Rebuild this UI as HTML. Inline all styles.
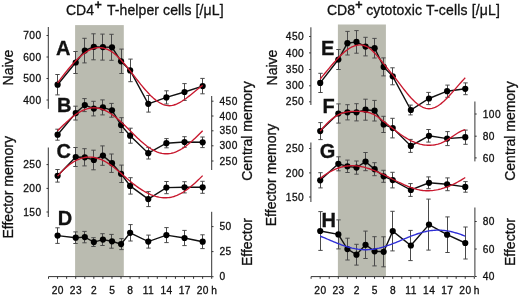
<!DOCTYPE html>
<html><head><meta charset="utf-8"><style>
html,body{margin:0;padding:0;background:#fff;}
svg{display:block;font-family:"Liberation Sans",sans-serif;will-change:transform;}
text{fill:#111;stroke:#111;stroke-width:0.3px;}
</style></head><body>
<svg width="520" height="295" viewBox="0 0 520 295">
<rect x="75.10" y="25.1" width="48.70" height="251.10" fill="#babbb0"/>
<rect x="337.90" y="24.5" width="48.00" height="251.70" fill="#babbb0"/>
<line x1="48.30" y1="27" x2="48.30" y2="108.8" stroke="#333" stroke-width="1"/>
<line x1="46.50" y1="35.5" x2="48.30" y2="35.5" stroke="#333" stroke-width="1"/>
<text x="41.55" y="39.10" text-anchor="end" font-size="10.2" letter-spacing="0.45">700</text>
<line x1="46.50" y1="57" x2="48.30" y2="57" stroke="#333" stroke-width="1"/>
<text x="41.55" y="60.60" text-anchor="end" font-size="10.2" letter-spacing="0.45">600</text>
<line x1="46.50" y1="78.5" x2="48.30" y2="78.5" stroke="#333" stroke-width="1"/>
<text x="41.55" y="82.10" text-anchor="end" font-size="10.2" letter-spacing="0.45">500</text>
<line x1="46.50" y1="100" x2="48.30" y2="100" stroke="#333" stroke-width="1"/>
<text x="41.55" y="103.60" text-anchor="end" font-size="10.2" letter-spacing="0.45">400</text>
<line x1="211.70" y1="96" x2="211.70" y2="170" stroke="#333" stroke-width="1"/>
<line x1="211.70" y1="101.2" x2="213.50" y2="101.2" stroke="#333" stroke-width="1"/>
<text x="219.50" y="104.80" text-anchor="start" font-size="10.2" letter-spacing="0.45">450</text>
<line x1="211.70" y1="116" x2="213.50" y2="116" stroke="#333" stroke-width="1"/>
<text x="219.50" y="119.60" text-anchor="start" font-size="10.2" letter-spacing="0.45">400</text>
<line x1="211.70" y1="130.8" x2="213.50" y2="130.8" stroke="#333" stroke-width="1"/>
<text x="219.50" y="134.40" text-anchor="start" font-size="10.2" letter-spacing="0.45">350</text>
<line x1="211.70" y1="145.8" x2="213.50" y2="145.8" stroke="#333" stroke-width="1"/>
<text x="219.50" y="149.40" text-anchor="start" font-size="10.2" letter-spacing="0.45">300</text>
<line x1="211.70" y1="161" x2="213.50" y2="161" stroke="#333" stroke-width="1"/>
<text x="219.50" y="164.60" text-anchor="start" font-size="10.2" letter-spacing="0.45">250</text>
<line x1="48.30" y1="147.5" x2="48.30" y2="217" stroke="#333" stroke-width="1"/>
<line x1="46.50" y1="164.6" x2="48.30" y2="164.6" stroke="#333" stroke-width="1"/>
<text x="41.55" y="168.20" text-anchor="end" font-size="10.2" letter-spacing="0.45">250</text>
<line x1="46.50" y1="188.4" x2="48.30" y2="188.4" stroke="#333" stroke-width="1"/>
<text x="41.55" y="192.00" text-anchor="end" font-size="10.2" letter-spacing="0.45">200</text>
<line x1="46.50" y1="212" x2="48.30" y2="212" stroke="#333" stroke-width="1"/>
<text x="41.55" y="215.60" text-anchor="end" font-size="10.2" letter-spacing="0.45">150</text>
<line x1="211.70" y1="211.8" x2="211.70" y2="276.7" stroke="#333" stroke-width="1"/>
<line x1="211.70" y1="226.6" x2="213.50" y2="226.6" stroke="#333" stroke-width="1"/>
<text x="219.50" y="230.20" text-anchor="start" font-size="10.2" letter-spacing="0.45">50</text>
<line x1="211.70" y1="251.6" x2="213.50" y2="251.6" stroke="#333" stroke-width="1"/>
<text x="219.50" y="255.20" text-anchor="start" font-size="10.2" letter-spacing="0.45">25</text>
<line x1="211.70" y1="276.7" x2="213.50" y2="276.7" stroke="#333" stroke-width="1"/>
<text x="219.50" y="280.30" text-anchor="start" font-size="10.2" letter-spacing="0.45">0</text>
<line x1="310.90" y1="27.3" x2="310.90" y2="105" stroke="#333" stroke-width="1"/>
<line x1="309.10" y1="36.5" x2="310.90" y2="36.5" stroke="#333" stroke-width="1"/>
<text x="304.15" y="40.10" text-anchor="end" font-size="10.2" letter-spacing="0.45">450</text>
<line x1="309.10" y1="52.9" x2="310.90" y2="52.9" stroke="#333" stroke-width="1"/>
<text x="304.15" y="56.50" text-anchor="end" font-size="10.2" letter-spacing="0.45">400</text>
<line x1="309.10" y1="69.5" x2="310.90" y2="69.5" stroke="#333" stroke-width="1"/>
<text x="304.15" y="73.10" text-anchor="end" font-size="10.2" letter-spacing="0.45">350</text>
<line x1="309.10" y1="85.8" x2="310.90" y2="85.8" stroke="#333" stroke-width="1"/>
<text x="304.15" y="89.40" text-anchor="end" font-size="10.2" letter-spacing="0.45">300</text>
<line x1="309.10" y1="101.8" x2="310.90" y2="101.8" stroke="#333" stroke-width="1"/>
<text x="304.15" y="105.40" text-anchor="end" font-size="10.2" letter-spacing="0.45">250</text>
<line x1="474.90" y1="101.5" x2="474.90" y2="161.4" stroke="#333" stroke-width="1"/>
<line x1="474.90" y1="114" x2="476.70" y2="114" stroke="#333" stroke-width="1"/>
<text x="482.70" y="117.60" text-anchor="start" font-size="10.2" letter-spacing="0.45">100</text>
<line x1="474.90" y1="136.2" x2="476.70" y2="136.2" stroke="#333" stroke-width="1"/>
<text x="482.70" y="139.80" text-anchor="start" font-size="10.2" letter-spacing="0.45">80</text>
<line x1="474.90" y1="157.9" x2="476.70" y2="157.9" stroke="#333" stroke-width="1"/>
<text x="482.70" y="161.50" text-anchor="start" font-size="10.2" letter-spacing="0.45">60</text>
<line x1="310.90" y1="142.5" x2="310.90" y2="202" stroke="#333" stroke-width="1"/>
<line x1="309.10" y1="148.5" x2="310.90" y2="148.5" stroke="#333" stroke-width="1"/>
<text x="304.15" y="152.10" text-anchor="end" font-size="10.2" letter-spacing="0.45">250</text>
<line x1="309.10" y1="172.9" x2="310.90" y2="172.9" stroke="#333" stroke-width="1"/>
<text x="304.15" y="176.50" text-anchor="end" font-size="10.2" letter-spacing="0.45">200</text>
<line x1="309.10" y1="197" x2="310.90" y2="197" stroke="#333" stroke-width="1"/>
<text x="304.15" y="200.60" text-anchor="end" font-size="10.2" letter-spacing="0.45">150</text>
<line x1="474.90" y1="207.5" x2="474.90" y2="276.7" stroke="#333" stroke-width="1"/>
<line x1="474.90" y1="221.5" x2="476.70" y2="221.5" stroke="#333" stroke-width="1"/>
<text x="482.70" y="225.10" text-anchor="start" font-size="10.2" letter-spacing="0.45">80</text>
<line x1="474.90" y1="249" x2="476.70" y2="249" stroke="#333" stroke-width="1"/>
<text x="482.70" y="252.60" text-anchor="start" font-size="10.2" letter-spacing="0.45">60</text>
<line x1="474.90" y1="276.5" x2="476.70" y2="276.5" stroke="#333" stroke-width="1"/>
<text x="482.70" y="280.10" text-anchor="start" font-size="10.2" letter-spacing="0.45">40</text>
<line x1="48.50" y1="276.6" x2="211.70" y2="276.6" stroke="#333" stroke-width="1"/>
<line x1="48.50" y1="276.6" x2="48.50" y2="278.8" stroke="#333" stroke-width="1"/>
<line x1="57.57" y1="276.6" x2="57.57" y2="278.8" stroke="#333" stroke-width="1"/>
<line x1="66.63" y1="276.6" x2="66.63" y2="278.8" stroke="#333" stroke-width="1"/>
<line x1="75.70" y1="276.6" x2="75.70" y2="278.8" stroke="#333" stroke-width="1"/>
<line x1="84.77" y1="276.6" x2="84.77" y2="278.8" stroke="#333" stroke-width="1"/>
<line x1="93.83" y1="276.6" x2="93.83" y2="278.8" stroke="#333" stroke-width="1"/>
<line x1="102.90" y1="276.6" x2="102.90" y2="278.8" stroke="#333" stroke-width="1"/>
<line x1="111.97" y1="276.6" x2="111.97" y2="278.8" stroke="#333" stroke-width="1"/>
<line x1="121.03" y1="276.6" x2="121.03" y2="278.8" stroke="#333" stroke-width="1"/>
<line x1="130.10" y1="276.6" x2="130.10" y2="278.8" stroke="#333" stroke-width="1"/>
<line x1="139.17" y1="276.6" x2="139.17" y2="278.8" stroke="#333" stroke-width="1"/>
<line x1="148.23" y1="276.6" x2="148.23" y2="278.8" stroke="#333" stroke-width="1"/>
<line x1="157.30" y1="276.6" x2="157.30" y2="278.8" stroke="#333" stroke-width="1"/>
<line x1="166.37" y1="276.6" x2="166.37" y2="278.8" stroke="#333" stroke-width="1"/>
<line x1="175.43" y1="276.6" x2="175.43" y2="278.8" stroke="#333" stroke-width="1"/>
<line x1="184.50" y1="276.6" x2="184.50" y2="278.8" stroke="#333" stroke-width="1"/>
<line x1="193.57" y1="276.6" x2="193.57" y2="278.8" stroke="#333" stroke-width="1"/>
<line x1="202.63" y1="276.6" x2="202.63" y2="278.8" stroke="#333" stroke-width="1"/>
<line x1="211.70" y1="276.6" x2="211.70" y2="278.8" stroke="#333" stroke-width="1"/>
<text x="57.83" y="293.9" text-anchor="middle" font-size="10.2" letter-spacing="0.45">20</text>
<text x="75.96" y="293.9" text-anchor="middle" font-size="10.2" letter-spacing="0.45">23</text>
<text x="94.09" y="293.9" text-anchor="middle" font-size="10.2" letter-spacing="0.45">2</text>
<text x="112.22" y="293.9" text-anchor="middle" font-size="10.2" letter-spacing="0.45">5</text>
<text x="130.35" y="293.9" text-anchor="middle" font-size="10.2" letter-spacing="0.45">8</text>
<text x="148.48" y="293.9" text-anchor="middle" font-size="10.2" letter-spacing="0.45">11</text>
<text x="166.62" y="293.9" text-anchor="middle" font-size="10.2" letter-spacing="0.45">14</text>
<text x="184.75" y="293.9" text-anchor="middle" font-size="10.2" letter-spacing="0.45">17</text>
<text x="202.88" y="293.9" text-anchor="middle" font-size="10.2" letter-spacing="0.45">20</text>
<text x="211.20" y="293.9" font-size="10.2">h</text>
<line x1="311.10" y1="276.6" x2="474.30" y2="276.6" stroke="#333" stroke-width="1"/>
<line x1="311.10" y1="276.6" x2="311.10" y2="278.8" stroke="#333" stroke-width="1"/>
<line x1="320.17" y1="276.6" x2="320.17" y2="278.8" stroke="#333" stroke-width="1"/>
<line x1="329.23" y1="276.6" x2="329.23" y2="278.8" stroke="#333" stroke-width="1"/>
<line x1="338.30" y1="276.6" x2="338.30" y2="278.8" stroke="#333" stroke-width="1"/>
<line x1="347.37" y1="276.6" x2="347.37" y2="278.8" stroke="#333" stroke-width="1"/>
<line x1="356.43" y1="276.6" x2="356.43" y2="278.8" stroke="#333" stroke-width="1"/>
<line x1="365.50" y1="276.6" x2="365.50" y2="278.8" stroke="#333" stroke-width="1"/>
<line x1="374.57" y1="276.6" x2="374.57" y2="278.8" stroke="#333" stroke-width="1"/>
<line x1="383.63" y1="276.6" x2="383.63" y2="278.8" stroke="#333" stroke-width="1"/>
<line x1="392.70" y1="276.6" x2="392.70" y2="278.8" stroke="#333" stroke-width="1"/>
<line x1="401.77" y1="276.6" x2="401.77" y2="278.8" stroke="#333" stroke-width="1"/>
<line x1="410.83" y1="276.6" x2="410.83" y2="278.8" stroke="#333" stroke-width="1"/>
<line x1="419.90" y1="276.6" x2="419.90" y2="278.8" stroke="#333" stroke-width="1"/>
<line x1="428.97" y1="276.6" x2="428.97" y2="278.8" stroke="#333" stroke-width="1"/>
<line x1="438.03" y1="276.6" x2="438.03" y2="278.8" stroke="#333" stroke-width="1"/>
<line x1="447.10" y1="276.6" x2="447.10" y2="278.8" stroke="#333" stroke-width="1"/>
<line x1="456.17" y1="276.6" x2="456.17" y2="278.8" stroke="#333" stroke-width="1"/>
<line x1="465.23" y1="276.6" x2="465.23" y2="278.8" stroke="#333" stroke-width="1"/>
<line x1="474.30" y1="276.6" x2="474.30" y2="278.8" stroke="#333" stroke-width="1"/>
<text x="320.43" y="293.9" text-anchor="middle" font-size="10.2" letter-spacing="0.45">20</text>
<text x="338.56" y="293.9" text-anchor="middle" font-size="10.2" letter-spacing="0.45">23</text>
<text x="356.69" y="293.9" text-anchor="middle" font-size="10.2" letter-spacing="0.45">2</text>
<text x="374.82" y="293.9" text-anchor="middle" font-size="10.2" letter-spacing="0.45">5</text>
<text x="392.95" y="293.9" text-anchor="middle" font-size="10.2" letter-spacing="0.45">8</text>
<text x="411.09" y="293.9" text-anchor="middle" font-size="10.2" letter-spacing="0.45">11</text>
<text x="429.22" y="293.9" text-anchor="middle" font-size="10.2" letter-spacing="0.45">14</text>
<text x="447.35" y="293.9" text-anchor="middle" font-size="10.2" letter-spacing="0.45">17</text>
<text x="465.48" y="293.9" text-anchor="middle" font-size="10.2" letter-spacing="0.45">20</text>
<text x="473.80" y="293.9" font-size="10.2">h</text>
<path d="M57.50 74.50V94.90M55.30 74.50H59.70M55.30 94.90H59.70" stroke="#4a4a4a" stroke-width="1" fill="none"/>
<path d="M75.50 51.50V73.50M73.30 51.50H77.70M73.30 73.50H77.70" stroke="#4a4a4a" stroke-width="1" fill="none"/>
<path d="M84.50 38.30V62.90M82.30 38.30H86.70M82.30 62.90H86.70" stroke="#4a4a4a" stroke-width="1" fill="none"/>
<path d="M93.50 33.80V59.80M91.30 33.80H95.70M91.30 59.80H95.70" stroke="#4a4a4a" stroke-width="1" fill="none"/>
<path d="M102.50 34.10V60.10M100.30 34.10H104.70M100.30 60.10H104.70" stroke="#4a4a4a" stroke-width="1" fill="none"/>
<path d="M111.50 34.30V60.30M109.30 34.30H113.70M109.30 60.30H113.70" stroke="#4a4a4a" stroke-width="1" fill="none"/>
<path d="M121.50 49.10V73.50M119.30 49.10H123.70M119.30 73.50H123.70" stroke="#4a4a4a" stroke-width="1" fill="none"/>
<path d="M130.50 59.10V81.70M128.30 59.10H132.70M128.30 81.70H132.70" stroke="#4a4a4a" stroke-width="1" fill="none"/>
<path d="M148.50 95.50V112.10M146.30 95.50H150.70M146.30 112.10H150.70" stroke="#4a4a4a" stroke-width="1" fill="none"/>
<path d="M166.50 90.80V104.00M164.30 90.80H168.70M164.30 104.00H168.70" stroke="#4a4a4a" stroke-width="1" fill="none"/>
<path d="M184.50 83.60V100.40M182.30 83.60H186.70M182.30 100.40H186.70" stroke="#4a4a4a" stroke-width="1" fill="none"/>
<path d="M202.50 78.40V93.80M200.30 78.40H204.70M200.30 93.80H204.70" stroke="#4a4a4a" stroke-width="1" fill="none"/>
<path d="M57.60 84.70 L75.73 62.50 L84.80 50.60 L93.86 46.80 L102.93 47.10 L112.00 47.30 L121.06 61.30 L130.13 70.40 L148.26 103.80 L166.39 97.40 L184.52 92.00 L202.66 86.10" stroke="#111" stroke-width="1.4" fill="none"/>
<circle cx="57.60" cy="84.70" r="3.1" fill="#000"/>
<circle cx="75.73" cy="62.50" r="3.1" fill="#000"/>
<circle cx="84.80" cy="50.60" r="3.1" fill="#000"/>
<circle cx="93.86" cy="46.80" r="3.1" fill="#000"/>
<circle cx="102.93" cy="47.10" r="3.1" fill="#000"/>
<circle cx="112.00" cy="47.30" r="3.1" fill="#000"/>
<circle cx="121.06" cy="61.30" r="3.1" fill="#000"/>
<circle cx="130.13" cy="70.40" r="3.1" fill="#000"/>
<circle cx="148.26" cy="103.80" r="3.1" fill="#000"/>
<circle cx="166.39" cy="97.40" r="3.1" fill="#000"/>
<circle cx="184.52" cy="92.00" r="3.1" fill="#000"/>
<circle cx="202.66" cy="86.10" r="3.1" fill="#000"/>
<path d="M57.60 82.90 L59.11 80.87 L60.62 78.85 L62.13 76.87 L63.64 74.91 L65.16 72.98 L66.67 71.10 L68.18 69.25 L69.69 67.45 L71.20 65.71 L72.71 64.01 L74.22 62.38 L75.73 60.81 L77.24 59.31 L78.75 57.87 L80.27 56.52 L81.78 55.24 L83.29 54.05 L84.80 52.94 L86.31 51.93 L87.82 51.01 L89.33 50.20 L90.84 49.49 L92.35 48.89 L93.86 48.40 L95.38 48.03 L96.89 47.78 L98.40 47.64 L99.91 47.63 L101.42 47.73 L102.93 47.96 L104.44 48.31 L105.95 48.79 L107.46 49.38 L108.97 50.11 L110.48 50.95 L112.00 51.93 L113.51 53.03 L115.02 54.24 L116.53 55.57 L118.04 57.00 L119.55 58.51 L121.06 60.11 L122.57 61.78 L124.08 63.52 L125.59 65.31 L127.11 67.14 L128.62 69.01 L130.13 70.91 L131.64 72.83 L133.15 74.75 L134.66 76.69 L136.17 78.61 L137.68 80.53 L139.19 82.43 L140.70 84.31 L142.22 86.15 L143.73 87.96 L145.24 89.71 L146.75 91.42 L148.26 93.06 L149.77 94.64 L151.28 96.14 L152.79 97.56 L154.30 98.89 L155.81 100.13 L157.33 101.26 L158.84 102.28 L160.35 103.18 L161.86 103.95 L163.37 104.60 L164.88 105.10 L166.39 105.46 L167.90 105.67 L169.41 105.71 L170.92 105.61 L172.44 105.37 L173.95 105.00 L175.46 104.51 L176.97 103.91 L178.48 103.21 L179.99 102.41 L181.50 101.52 L183.01 100.56 L184.52 99.54 L186.03 98.45 L187.55 97.32 L189.06 96.15 L190.57 94.95 L192.08 93.73 L193.59 92.50 L195.10 91.26 L196.61 90.04 L198.12 88.82 L199.63 87.64 L201.14 86.48 L202.66 85.37" stroke="#c8182e" stroke-width="1.35" fill="none"/>
<path d="M57.50 129.20V140.20M55.30 129.20H59.70M55.30 140.20H59.70" stroke="#4a4a4a" stroke-width="1" fill="none"/>
<path d="M75.50 106.20V120.00M73.30 106.20H77.70M73.30 120.00H77.70" stroke="#4a4a4a" stroke-width="1" fill="none"/>
<path d="M84.50 98.60V111.60M82.30 98.60H86.70M82.30 111.60H86.70" stroke="#4a4a4a" stroke-width="1" fill="none"/>
<path d="M93.50 101.30V115.90M91.30 101.30H95.70M91.30 115.90H95.70" stroke="#4a4a4a" stroke-width="1" fill="none"/>
<path d="M102.50 99.90V114.90M100.30 99.90H104.70M100.30 114.90H104.70" stroke="#4a4a4a" stroke-width="1" fill="none"/>
<path d="M111.50 103.40V117.20M109.30 103.40H113.70M109.30 117.20H113.70" stroke="#4a4a4a" stroke-width="1" fill="none"/>
<path d="M121.50 117.70V132.50M119.30 117.70H123.70M119.30 132.50H123.70" stroke="#4a4a4a" stroke-width="1" fill="none"/>
<path d="M130.50 128.20V143.20M128.30 128.20H132.70M128.30 143.20H132.70" stroke="#4a4a4a" stroke-width="1" fill="none"/>
<path d="M148.50 147.40V159.00M146.30 147.40H150.70M146.30 159.00H150.70" stroke="#4a4a4a" stroke-width="1" fill="none"/>
<path d="M166.50 138.60V147.80M164.30 138.60H168.70M164.30 147.80H168.70" stroke="#4a4a4a" stroke-width="1" fill="none"/>
<path d="M184.50 136.70V147.30M182.30 136.70H186.70M182.30 147.30H186.70" stroke="#4a4a4a" stroke-width="1" fill="none"/>
<path d="M202.50 137.00V147.60M200.30 137.00H204.70M200.30 147.60H204.70" stroke="#4a4a4a" stroke-width="1" fill="none"/>
<path d="M57.60 134.70 L75.73 113.10 L84.80 105.10 L93.86 108.60 L102.93 107.40 L112.00 110.30 L121.06 125.10 L130.13 135.70 L148.26 153.20 L166.39 143.20 L184.52 142.00 L202.66 142.30" stroke="#111" stroke-width="1.4" fill="none"/>
<circle cx="57.60" cy="134.70" r="3.1" fill="#000"/>
<circle cx="75.73" cy="113.10" r="3.1" fill="#000"/>
<circle cx="84.80" cy="105.10" r="3.1" fill="#000"/>
<circle cx="93.86" cy="108.60" r="3.1" fill="#000"/>
<circle cx="102.93" cy="107.40" r="3.1" fill="#000"/>
<circle cx="112.00" cy="110.30" r="3.1" fill="#000"/>
<circle cx="121.06" cy="125.10" r="3.1" fill="#000"/>
<circle cx="130.13" cy="135.70" r="3.1" fill="#000"/>
<circle cx="148.26" cy="153.20" r="3.1" fill="#000"/>
<circle cx="166.39" cy="143.20" r="3.1" fill="#000"/>
<circle cx="184.52" cy="142.00" r="3.1" fill="#000"/>
<circle cx="202.66" cy="142.30" r="3.1" fill="#000"/>
<path d="M57.60 130.80 L59.11 129.30 L60.62 127.80 L62.13 126.32 L63.64 124.85 L65.16 123.41 L66.67 122.00 L68.18 120.63 L69.69 119.30 L71.20 118.03 L72.71 116.80 L74.22 115.64 L75.73 114.54 L77.24 113.51 L78.75 112.55 L80.27 111.68 L81.78 110.88 L83.29 110.17 L84.80 109.55 L86.31 109.02 L87.82 108.58 L89.33 108.24 L90.84 107.99 L92.35 107.84 L93.86 107.79 L95.38 107.84 L96.89 107.99 L98.40 108.23 L99.91 108.57 L101.42 109.01 L102.93 109.54 L104.44 110.16 L105.95 110.87 L107.46 111.66 L108.97 112.53 L110.48 113.49 L112.00 114.52 L113.51 115.61 L115.02 116.78 L116.53 118.00 L118.04 119.28 L119.55 120.60 L121.06 121.97 L122.57 123.38 L124.08 124.82 L125.59 126.28 L127.11 127.77 L128.62 129.27 L130.13 130.77 L131.64 132.27 L133.15 133.77 L134.66 135.26 L136.17 136.72 L137.68 138.16 L139.19 139.57 L140.70 140.94 L142.22 142.27 L143.73 143.55 L145.24 144.77 L146.75 145.94 L148.26 147.03 L149.77 148.06 L151.28 149.02 L152.79 149.90 L154.30 150.69 L155.81 151.40 L157.33 152.02 L158.84 152.55 L160.35 152.99 L161.86 153.34 L163.37 153.58 L164.88 153.73 L166.39 153.78 L167.90 153.73 L169.41 153.59 L170.92 153.34 L172.44 153.00 L173.95 152.57 L175.46 152.04 L176.97 151.42 L178.48 150.71 L179.99 149.91 L181.50 149.04 L183.01 148.08 L184.52 147.06 L186.03 145.96 L187.55 144.80 L189.06 143.57 L190.57 142.30 L192.08 140.97 L193.59 139.60 L195.10 138.19 L196.61 136.75 L198.12 135.29 L199.63 133.80 L201.14 132.31 L202.66 130.80" stroke="#c8182e" stroke-width="1.35" fill="none"/>
<path d="M57.50 169.50V182.10M55.30 169.50H59.70M55.30 182.10H59.70" stroke="#4a4a4a" stroke-width="1" fill="none"/>
<path d="M75.50 147.50V166.50M73.30 147.50H77.70M73.30 166.50H77.70" stroke="#4a4a4a" stroke-width="1" fill="none"/>
<path d="M84.50 148.70V165.90M82.30 148.70H86.70M82.30 165.90H86.70" stroke="#4a4a4a" stroke-width="1" fill="none"/>
<path d="M93.50 150.20V169.80M91.30 150.20H95.70M91.30 169.80H95.70" stroke="#4a4a4a" stroke-width="1" fill="none"/>
<path d="M102.50 145.90V165.30M100.30 145.90H104.70M100.30 165.30H104.70" stroke="#4a4a4a" stroke-width="1" fill="none"/>
<path d="M111.50 154.00V172.40M109.30 154.00H113.70M109.30 172.40H113.70" stroke="#4a4a4a" stroke-width="1" fill="none"/>
<path d="M121.50 165.10V182.50M119.30 165.10H123.70M119.30 182.50H123.70" stroke="#4a4a4a" stroke-width="1" fill="none"/>
<path d="M130.50 177.70V194.10M128.30 177.70H132.70M128.30 194.10H132.70" stroke="#4a4a4a" stroke-width="1" fill="none"/>
<path d="M148.50 191.60V206.60M146.30 191.60H150.70M146.30 206.60H150.70" stroke="#4a4a4a" stroke-width="1" fill="none"/>
<path d="M166.50 181.50V193.70M164.30 181.50H168.70M164.30 193.70H168.70" stroke="#4a4a4a" stroke-width="1" fill="none"/>
<path d="M184.50 181.70V192.90M182.30 181.70H186.70M182.30 192.90H186.70" stroke="#4a4a4a" stroke-width="1" fill="none"/>
<path d="M202.50 181.30V193.30M200.30 181.30H204.70M200.30 193.30H204.70" stroke="#4a4a4a" stroke-width="1" fill="none"/>
<path d="M57.60 175.80 L75.73 157.00 L84.80 157.30 L93.86 160.00 L102.93 155.60 L112.00 163.20 L121.06 173.80 L130.13 185.90 L148.26 199.10 L166.39 187.60 L184.52 187.30 L202.66 187.30" stroke="#111" stroke-width="1.4" fill="none"/>
<circle cx="57.60" cy="175.80" r="3.1" fill="#000"/>
<circle cx="75.73" cy="157.00" r="3.1" fill="#000"/>
<circle cx="84.80" cy="157.30" r="3.1" fill="#000"/>
<circle cx="93.86" cy="160.00" r="3.1" fill="#000"/>
<circle cx="102.93" cy="155.60" r="3.1" fill="#000"/>
<circle cx="112.00" cy="163.20" r="3.1" fill="#000"/>
<circle cx="121.06" cy="173.80" r="3.1" fill="#000"/>
<circle cx="130.13" cy="185.90" r="3.1" fill="#000"/>
<circle cx="148.26" cy="199.10" r="3.1" fill="#000"/>
<circle cx="166.39" cy="187.60" r="3.1" fill="#000"/>
<circle cx="184.52" cy="187.30" r="3.1" fill="#000"/>
<circle cx="202.66" cy="187.30" r="3.1" fill="#000"/>
<path d="M57.60 176.14 L59.11 174.38 L60.62 172.71 L62.13 171.12 L63.64 169.62 L65.16 168.20 L66.67 166.87 L68.18 165.62 L69.69 164.45 L71.20 163.37 L72.71 162.38 L74.22 161.47 L75.73 160.65 L77.24 159.91 L78.75 159.26 L80.27 158.69 L81.78 158.21 L83.29 157.81 L84.80 157.50 L86.31 157.28 L87.82 157.14 L89.33 157.08 L90.84 157.12 L92.35 157.23 L93.86 157.44 L95.38 157.73 L96.89 158.11 L98.40 158.56 L99.91 159.10 L101.42 159.71 L102.93 160.39 L104.44 161.15 L105.95 161.98 L107.46 162.88 L108.97 163.84 L110.48 164.86 L112.00 165.94 L113.51 167.08 L115.02 168.27 L116.53 169.50 L118.04 170.77 L119.55 172.07 L121.06 173.38 L122.57 174.71 L124.08 176.04 L125.59 177.37 L127.11 178.69 L128.62 179.99 L130.13 181.26 L131.64 182.50 L133.15 183.71 L134.66 184.88 L136.17 186.01 L137.68 187.10 L139.19 188.15 L140.70 189.15 L142.22 190.11 L143.73 191.02 L145.24 191.88 L146.75 192.69 L148.26 193.45 L149.77 194.15 L151.28 194.79 L152.79 195.38 L154.30 195.91 L155.81 196.37 L157.33 196.78 L158.84 197.11 L160.35 197.38 L161.86 197.58 L163.37 197.71 L164.88 197.77 L166.39 197.75 L167.90 197.65 L169.41 197.48 L170.92 197.23 L172.44 196.90 L173.95 196.48 L175.46 195.98 L176.97 195.39 L178.48 194.72 L179.99 193.97 L181.50 193.15 L183.01 192.25 L184.52 191.28 L186.03 190.25 L187.55 189.15 L189.06 188.00 L190.57 186.80 L192.08 185.54 L193.59 184.24 L195.10 182.89 L196.61 181.50 L198.12 180.08 L199.63 178.62 L201.14 177.14 L202.66 175.63" stroke="#c8182e" stroke-width="1.35" fill="none"/>
<path d="M57.50 227.80V243.40M55.30 227.80H59.70M55.30 243.40H59.70" stroke="#4a4a4a" stroke-width="1" fill="none"/>
<path d="M75.50 231.90V243.50M73.30 231.90H77.70M73.30 243.50H77.70" stroke="#4a4a4a" stroke-width="1" fill="none"/>
<path d="M84.50 231.40V242.80M82.30 231.40H86.70M82.30 242.80H86.70" stroke="#4a4a4a" stroke-width="1" fill="none"/>
<path d="M93.50 237.70V246.50M91.30 237.70H95.70M91.30 246.50H95.70" stroke="#4a4a4a" stroke-width="1" fill="none"/>
<path d="M102.50 233.70V245.50M100.30 233.70H104.70M100.30 245.50H104.70" stroke="#4a4a4a" stroke-width="1" fill="none"/>
<path d="M111.50 234.40V248.20M109.30 234.40H113.70M109.30 248.20H113.70" stroke="#4a4a4a" stroke-width="1" fill="none"/>
<path d="M121.50 238.60V249.60M119.30 238.60H123.70M119.30 249.60H123.70" stroke="#4a4a4a" stroke-width="1" fill="none"/>
<path d="M130.50 224.60V241.00M128.30 224.60H132.70M128.30 241.00H132.70" stroke="#4a4a4a" stroke-width="1" fill="none"/>
<path d="M148.50 235.10V248.10M146.30 235.10H150.70M146.30 248.10H150.70" stroke="#4a4a4a" stroke-width="1" fill="none"/>
<path d="M166.50 227.60V242.60M164.30 227.60H168.70M164.30 242.60H168.70" stroke="#4a4a4a" stroke-width="1" fill="none"/>
<path d="M184.50 230.40V245.60M182.30 230.40H186.70M182.30 245.60H186.70" stroke="#4a4a4a" stroke-width="1" fill="none"/>
<path d="M202.50 234.80V248.60M200.30 234.80H204.70M200.30 248.60H204.70" stroke="#4a4a4a" stroke-width="1" fill="none"/>
<path d="M57.60 235.60 L75.73 237.70 L84.80 237.10 L93.86 242.10 L102.93 239.60 L112.00 241.30 L121.06 244.10 L130.13 232.80 L148.26 241.60 L166.39 235.10 L184.52 238.00 L202.66 241.70" stroke="#111" stroke-width="1.4" fill="none"/>
<circle cx="57.60" cy="235.60" r="3.1" fill="#000"/>
<circle cx="75.73" cy="237.70" r="3.1" fill="#000"/>
<circle cx="84.80" cy="237.10" r="3.1" fill="#000"/>
<circle cx="93.86" cy="242.10" r="3.1" fill="#000"/>
<circle cx="102.93" cy="239.60" r="3.1" fill="#000"/>
<circle cx="112.00" cy="241.30" r="3.1" fill="#000"/>
<circle cx="121.06" cy="244.10" r="3.1" fill="#000"/>
<circle cx="130.13" cy="232.80" r="3.1" fill="#000"/>
<circle cx="148.26" cy="241.60" r="3.1" fill="#000"/>
<circle cx="166.39" cy="235.10" r="3.1" fill="#000"/>
<circle cx="184.52" cy="238.00" r="3.1" fill="#000"/>
<circle cx="202.66" cy="241.70" r="3.1" fill="#000"/>
<path d="M320.50 73.30V92.50M318.30 73.30H322.70M318.30 92.50H322.70" stroke="#4a4a4a" stroke-width="1" fill="none"/>
<path d="M338.50 49.50V69.50M336.30 49.50H340.70M336.30 69.50H340.70" stroke="#4a4a4a" stroke-width="1" fill="none"/>
<path d="M347.50 31.40V55.00M345.30 31.40H349.70M345.30 55.00H349.70" stroke="#4a4a4a" stroke-width="1" fill="none"/>
<path d="M356.50 30.60V53.20M354.30 30.60H358.70M354.30 53.20H358.70" stroke="#4a4a4a" stroke-width="1" fill="none"/>
<path d="M365.50 37.30V55.90M363.30 37.30H367.70M363.30 55.90H367.70" stroke="#4a4a4a" stroke-width="1" fill="none"/>
<path d="M374.50 38.40V58.00M372.30 38.40H376.70M372.30 58.00H376.70" stroke="#4a4a4a" stroke-width="1" fill="none"/>
<path d="M383.50 57.90V75.90M381.30 57.90H385.70M381.30 75.90H385.70" stroke="#4a4a4a" stroke-width="1" fill="none"/>
<path d="M392.50 67.80V84.80M390.30 67.80H394.70M390.30 84.80H394.70" stroke="#4a4a4a" stroke-width="1" fill="none"/>
<path d="M410.50 105.10V114.90M408.30 105.10H412.70M408.30 114.90H412.70" stroke="#4a4a4a" stroke-width="1" fill="none"/>
<path d="M428.50 92.40V104.60M426.30 92.40H430.70M426.30 104.60H430.70" stroke="#4a4a4a" stroke-width="1" fill="none"/>
<path d="M447.50 85.10V97.30M445.30 85.10H449.70M445.30 97.30H449.70" stroke="#4a4a4a" stroke-width="1" fill="none"/>
<path d="M465.50 82.90V94.70M463.30 82.90H467.70M463.30 94.70H467.70" stroke="#4a4a4a" stroke-width="1" fill="none"/>
<path d="M320.20 82.90 L338.33 59.50 L347.40 43.20 L356.46 41.90 L365.53 46.60 L374.60 48.20 L383.66 66.90 L392.73 76.30 L410.86 110.00 L428.99 98.50 L447.12 91.20 L465.26 88.80" stroke="#111" stroke-width="1.4" fill="none"/>
<circle cx="320.20" cy="82.90" r="3.1" fill="#000"/>
<circle cx="338.33" cy="59.50" r="3.1" fill="#000"/>
<circle cx="347.40" cy="43.20" r="3.1" fill="#000"/>
<circle cx="356.46" cy="41.90" r="3.1" fill="#000"/>
<circle cx="365.53" cy="46.60" r="3.1" fill="#000"/>
<circle cx="374.60" cy="48.20" r="3.1" fill="#000"/>
<circle cx="383.66" cy="66.90" r="3.1" fill="#000"/>
<circle cx="392.73" cy="76.30" r="3.1" fill="#000"/>
<circle cx="410.86" cy="110.00" r="3.1" fill="#000"/>
<circle cx="428.99" cy="98.50" r="3.1" fill="#000"/>
<circle cx="447.12" cy="91.20" r="3.1" fill="#000"/>
<circle cx="465.26" cy="88.80" r="3.1" fill="#000"/>
<path d="M320.20 78.97 L321.71 77.18 L323.22 75.37 L324.73 73.55 L326.24 71.73 L327.75 69.91 L329.27 68.09 L330.78 66.30 L332.29 64.53 L333.80 62.79 L335.31 61.08 L336.82 59.43 L338.33 57.82 L339.84 56.28 L341.35 54.81 L342.87 53.41 L344.38 52.09 L345.89 50.86 L347.40 49.72 L348.91 48.69 L350.42 47.77 L351.93 46.97 L353.44 46.29 L354.95 45.73 L356.46 45.32 L357.98 45.05 L359.49 44.92 L361.00 44.95 L362.51 45.14 L364.02 45.50 L365.53 46.04 L367.04 46.76 L368.55 47.66 L370.06 48.76 L371.57 50.03 L373.09 51.45 L374.60 52.99 L376.11 54.65 L377.62 56.40 L379.13 58.21 L380.64 60.06 L382.15 61.94 L383.66 63.81 L385.17 65.68 L386.68 67.52 L388.20 69.37 L389.71 71.21 L391.22 73.07 L392.73 74.94 L394.24 76.83 L395.75 78.76 L397.26 80.71 L398.77 82.69 L400.28 84.67 L401.79 86.64 L403.31 88.60 L404.82 90.52 L406.33 92.41 L407.84 94.24 L409.35 96.00 L410.86 97.68 L412.37 99.27 L413.88 100.77 L415.39 102.15 L416.90 103.43 L418.42 104.58 L419.93 105.61 L421.44 106.50 L422.95 107.26 L424.46 107.86 L425.97 108.31 L427.48 108.59 L428.99 108.71 L430.50 108.64 L432.01 108.40 L433.52 107.98 L435.04 107.39 L436.55 106.65 L438.06 105.76 L439.57 104.74 L441.08 103.60 L442.59 102.35 L444.10 101.00 L445.61 99.56 L447.12 98.04 L448.63 96.46 L450.15 94.82 L451.66 93.13 L453.17 91.42 L454.68 89.68 L456.19 87.92 L457.70 86.17 L459.21 84.43 L460.72 82.71 L462.23 81.02 L463.75 79.38 L465.26 77.79" stroke="#c8182e" stroke-width="1.35" fill="none"/>
<path d="M320.50 122.60V139.60M318.30 122.60H322.70M318.30 139.60H322.70" stroke="#4a4a4a" stroke-width="1" fill="none"/>
<path d="M338.50 103.90V123.10M336.30 103.90H340.70M336.30 123.10H340.70" stroke="#4a4a4a" stroke-width="1" fill="none"/>
<path d="M347.50 104.70V119.90M345.30 104.70H349.70M345.30 119.90H349.70" stroke="#4a4a4a" stroke-width="1" fill="none"/>
<path d="M356.50 103.70V120.90M354.30 103.70H358.70M354.30 120.90H358.70" stroke="#4a4a4a" stroke-width="1" fill="none"/>
<path d="M365.50 99.20V120.20M363.30 99.20H367.70M363.30 120.20H367.70" stroke="#4a4a4a" stroke-width="1" fill="none"/>
<path d="M374.50 100.40V121.00M372.30 100.40H376.70M372.30 121.00H376.70" stroke="#4a4a4a" stroke-width="1" fill="none"/>
<path d="M383.50 116.30V132.50M381.30 116.30H385.70M381.30 132.50H385.70" stroke="#4a4a4a" stroke-width="1" fill="none"/>
<path d="M392.50 118.30V137.90M390.30 118.30H394.70M390.30 137.90H394.70" stroke="#4a4a4a" stroke-width="1" fill="none"/>
<path d="M410.50 139.40V152.40M408.30 139.40H412.70M408.30 152.40H412.70" stroke="#4a4a4a" stroke-width="1" fill="none"/>
<path d="M428.50 129.50V142.10M426.30 129.50H430.70M426.30 142.10H430.70" stroke="#4a4a4a" stroke-width="1" fill="none"/>
<path d="M447.50 131.60V145.60M445.30 131.60H449.70M445.30 145.60H449.70" stroke="#4a4a4a" stroke-width="1" fill="none"/>
<path d="M465.50 130.10V144.30M463.30 130.10H467.70M463.30 144.30H467.70" stroke="#4a4a4a" stroke-width="1" fill="none"/>
<path d="M320.20 131.10 L338.33 113.50 L347.40 112.30 L356.46 112.30 L365.53 109.70 L374.60 110.70 L383.66 124.40 L392.73 128.10 L410.86 145.90 L428.99 135.80 L447.12 138.60 L465.26 137.20" stroke="#111" stroke-width="1.4" fill="none"/>
<circle cx="320.20" cy="131.10" r="3.1" fill="#000"/>
<circle cx="338.33" cy="113.50" r="3.1" fill="#000"/>
<circle cx="347.40" cy="112.30" r="3.1" fill="#000"/>
<circle cx="356.46" cy="112.30" r="3.1" fill="#000"/>
<circle cx="365.53" cy="109.70" r="3.1" fill="#000"/>
<circle cx="374.60" cy="110.70" r="3.1" fill="#000"/>
<circle cx="383.66" cy="124.40" r="3.1" fill="#000"/>
<circle cx="392.73" cy="128.10" r="3.1" fill="#000"/>
<circle cx="410.86" cy="145.90" r="3.1" fill="#000"/>
<circle cx="428.99" cy="135.80" r="3.1" fill="#000"/>
<circle cx="447.12" cy="138.60" r="3.1" fill="#000"/>
<circle cx="465.26" cy="137.20" r="3.1" fill="#000"/>
<path d="M320.20 131.09 L321.71 129.29 L323.22 127.56 L324.73 125.90 L326.24 124.31 L327.75 122.80 L329.27 121.37 L330.78 120.02 L332.29 118.77 L333.80 117.62 L335.31 116.56 L336.82 115.61 L338.33 114.78 L339.84 114.05 L341.35 113.44 L342.87 112.92 L344.38 112.49 L345.89 112.15 L347.40 111.87 L348.91 111.67 L350.42 111.52 L351.93 111.41 L353.44 111.35 L354.95 111.32 L356.46 111.31 L357.98 111.31 L359.49 111.34 L361.00 111.41 L362.51 111.51 L364.02 111.66 L365.53 111.88 L367.04 112.16 L368.55 112.52 L370.06 112.97 L371.57 113.51 L373.09 114.16 L374.60 114.92 L376.11 115.80 L377.62 116.79 L379.13 117.86 L380.64 118.99 L382.15 120.17 L383.66 121.37 L385.17 122.58 L386.68 123.79 L388.20 125.00 L389.71 126.20 L391.22 127.40 L392.73 128.58 L394.24 129.74 L395.75 130.89 L397.26 132.02 L398.77 133.12 L400.28 134.19 L401.79 135.23 L403.31 136.23 L404.82 137.20 L406.33 138.12 L407.84 139.00 L409.35 139.83 L410.86 140.60 L412.37 141.32 L413.88 141.99 L415.39 142.60 L416.90 143.15 L418.42 143.64 L419.93 144.06 L421.44 144.43 L422.95 144.73 L424.46 144.97 L425.97 145.14 L427.48 145.25 L428.99 145.29 L430.50 145.26 L432.01 145.16 L433.52 144.99 L435.04 144.74 L436.55 144.43 L438.06 144.03 L439.57 143.57 L441.08 143.02 L442.59 142.40 L444.10 141.70 L445.61 140.92 L447.12 140.06 L448.63 139.12 L450.15 138.12 L451.66 137.08 L453.17 136.03 L454.68 134.98 L456.19 133.97 L457.70 133.00 L459.21 132.11 L460.72 131.32 L462.23 130.65 L463.75 130.11 L465.26 129.74" stroke="#c8182e" stroke-width="1.35" fill="none"/>
<path d="M320.50 172.70V187.90M318.30 172.70H322.70M318.30 187.90H322.70" stroke="#4a4a4a" stroke-width="1" fill="none"/>
<path d="M338.50 156.80V170.80M336.30 156.80H340.70M336.30 170.80H340.70" stroke="#4a4a4a" stroke-width="1" fill="none"/>
<path d="M347.50 160.10V172.50M345.30 160.10H349.70M345.30 172.50H349.70" stroke="#4a4a4a" stroke-width="1" fill="none"/>
<path d="M356.50 161.00V174.20M354.30 161.00H358.70M354.30 174.20H358.70" stroke="#4a4a4a" stroke-width="1" fill="none"/>
<path d="M365.50 152.50V170.70M363.30 152.50H367.70M363.30 170.70H367.70" stroke="#4a4a4a" stroke-width="1" fill="none"/>
<path d="M374.50 162.70V175.70M372.30 162.70H376.70M372.30 175.70H376.70" stroke="#4a4a4a" stroke-width="1" fill="none"/>
<path d="M383.50 170.30V182.30M381.30 170.30H385.70M381.30 182.30H385.70" stroke="#4a4a4a" stroke-width="1" fill="none"/>
<path d="M392.50 172.30V187.90M390.30 172.30H394.70M390.30 187.90H394.70" stroke="#4a4a4a" stroke-width="1" fill="none"/>
<path d="M410.50 183.60V196.40M408.30 183.60H412.70M408.30 196.40H412.70" stroke="#4a4a4a" stroke-width="1" fill="none"/>
<path d="M428.50 176.90V188.70M426.30 176.90H430.70M426.30 188.70H430.70" stroke="#4a4a4a" stroke-width="1" fill="none"/>
<path d="M447.50 177.90V190.70M445.30 177.90H449.70M445.30 190.70H449.70" stroke="#4a4a4a" stroke-width="1" fill="none"/>
<path d="M465.50 181.60V192.20M463.30 181.60H467.70M463.30 192.20H467.70" stroke="#4a4a4a" stroke-width="1" fill="none"/>
<path d="M320.20 180.30 L338.33 163.80 L347.40 166.30 L356.46 167.60 L365.53 161.60 L374.60 169.20 L383.66 176.30 L392.73 180.10 L410.86 190.00 L428.99 182.80 L447.12 184.30 L465.26 186.90" stroke="#111" stroke-width="1.4" fill="none"/>
<circle cx="320.20" cy="180.30" r="3.1" fill="#000"/>
<circle cx="338.33" cy="163.80" r="3.1" fill="#000"/>
<circle cx="347.40" cy="166.30" r="3.1" fill="#000"/>
<circle cx="356.46" cy="167.60" r="3.1" fill="#000"/>
<circle cx="365.53" cy="161.60" r="3.1" fill="#000"/>
<circle cx="374.60" cy="169.20" r="3.1" fill="#000"/>
<circle cx="383.66" cy="176.30" r="3.1" fill="#000"/>
<circle cx="392.73" cy="180.10" r="3.1" fill="#000"/>
<circle cx="410.86" cy="190.00" r="3.1" fill="#000"/>
<circle cx="428.99" cy="182.80" r="3.1" fill="#000"/>
<circle cx="447.12" cy="184.30" r="3.1" fill="#000"/>
<circle cx="465.26" cy="186.90" r="3.1" fill="#000"/>
<path d="M320.20 178.52 L321.71 177.30 L323.22 176.14 L324.73 175.05 L326.24 174.02 L327.75 173.06 L329.27 172.15 L330.78 171.31 L332.29 170.53 L333.80 169.81 L335.31 169.15 L336.82 168.55 L338.33 168.01 L339.84 167.52 L341.35 167.10 L342.87 166.73 L344.38 166.42 L345.89 166.16 L347.40 165.96 L348.91 165.81 L350.42 165.72 L351.93 165.68 L353.44 165.70 L354.95 165.77 L356.46 165.89 L357.98 166.06 L359.49 166.27 L361.00 166.54 L362.51 166.85 L364.02 167.20 L365.53 167.60 L367.04 168.03 L368.55 168.50 L370.06 169.00 L371.57 169.53 L373.09 170.10 L374.60 170.69 L376.11 171.31 L377.62 171.96 L379.13 172.62 L380.64 173.31 L382.15 174.01 L383.66 174.73 L385.17 175.47 L386.68 176.21 L388.20 176.97 L389.71 177.73 L391.22 178.49 L392.73 179.25 L394.24 180.02 L395.75 180.77 L397.26 181.52 L398.77 182.26 L400.28 182.98 L401.79 183.69 L403.31 184.38 L404.82 185.05 L406.33 185.70 L407.84 186.32 L409.35 186.91 L410.86 187.47 L412.37 187.99 L413.88 188.48 L415.39 188.93 L416.90 189.33 L418.42 189.69 L419.93 190.00 L421.44 190.26 L422.95 190.47 L424.46 190.62 L425.97 190.71 L427.48 190.76 L428.99 190.74 L430.50 190.68 L432.01 190.57 L433.52 190.41 L435.04 190.19 L436.55 189.94 L438.06 189.63 L439.57 189.28 L441.08 188.89 L442.59 188.45 L444.10 187.98 L445.61 187.46 L447.12 186.90 L448.63 186.30 L450.15 185.67 L451.66 185.00 L453.17 184.30 L454.68 183.56 L456.19 182.79 L457.70 181.99 L459.21 181.16 L460.72 180.30 L462.23 179.41 L463.75 178.49 L465.26 177.55" stroke="#c8182e" stroke-width="1.35" fill="none"/>
<path d="M320.50 211.60V250.40M318.30 211.60H322.70M318.30 250.40H322.70" stroke="#4a4a4a" stroke-width="1" fill="none"/>
<path d="M338.50 219.90V248.90M336.30 219.90H340.70M336.30 248.90H340.70" stroke="#4a4a4a" stroke-width="1" fill="none"/>
<path d="M347.50 238.20V260.00M345.30 238.20H349.70M345.30 260.00H349.70" stroke="#4a4a4a" stroke-width="1" fill="none"/>
<path d="M356.50 244.30V265.10M354.30 244.30H358.70M354.30 265.10H358.70" stroke="#4a4a4a" stroke-width="1" fill="none"/>
<path d="M365.50 231.10V258.50M363.30 231.10H367.70M363.30 258.50H367.70" stroke="#4a4a4a" stroke-width="1" fill="none"/>
<path d="M374.50 236.70V265.90M372.30 236.70H376.70M372.30 265.90H376.70" stroke="#4a4a4a" stroke-width="1" fill="none"/>
<path d="M383.50 236.80V266.80M381.30 236.80H385.70M381.30 266.80H385.70" stroke="#4a4a4a" stroke-width="1" fill="none"/>
<path d="M392.50 211.30V250.90M390.30 211.30H394.70M390.30 250.90H394.70" stroke="#4a4a4a" stroke-width="1" fill="none"/>
<path d="M410.50 230.40V260.60M408.30 230.40H412.70M408.30 260.60H412.70" stroke="#4a4a4a" stroke-width="1" fill="none"/>
<path d="M428.50 199.10V250.10M426.30 199.10H430.70M426.30 250.10H430.70" stroke="#4a4a4a" stroke-width="1" fill="none"/>
<path d="M447.50 216.90V252.50M445.30 216.90H449.70M445.30 252.50H449.70" stroke="#4a4a4a" stroke-width="1" fill="none"/>
<path d="M465.50 227.00V259.00M463.30 227.00H467.70M463.30 259.00H467.70" stroke="#4a4a4a" stroke-width="1" fill="none"/>
<path d="M320.20 231.00 L338.33 234.40 L347.40 249.10 L356.46 254.70 L365.53 244.80 L374.60 251.30 L383.66 251.80 L392.73 231.10 L410.86 245.50 L428.99 224.60 L447.12 234.70 L465.26 243.00" stroke="#111" stroke-width="1.4" fill="none"/>
<circle cx="320.20" cy="231.00" r="3.1" fill="#000"/>
<circle cx="338.33" cy="234.40" r="3.1" fill="#000"/>
<circle cx="347.40" cy="249.10" r="3.1" fill="#000"/>
<circle cx="356.46" cy="254.70" r="3.1" fill="#000"/>
<circle cx="365.53" cy="244.80" r="3.1" fill="#000"/>
<circle cx="374.60" cy="251.30" r="3.1" fill="#000"/>
<circle cx="383.66" cy="251.80" r="3.1" fill="#000"/>
<circle cx="392.73" cy="231.10" r="3.1" fill="#000"/>
<circle cx="410.86" cy="245.50" r="3.1" fill="#000"/>
<circle cx="428.99" cy="224.60" r="3.1" fill="#000"/>
<circle cx="447.12" cy="234.70" r="3.1" fill="#000"/>
<circle cx="465.26" cy="243.00" r="3.1" fill="#000"/>
<path d="M320.20 236.15 L321.71 236.75 L323.22 237.36 L324.73 237.99 L326.24 238.62 L327.75 239.25 L329.27 239.90 L330.78 240.54 L332.29 241.17 L333.80 241.81 L335.31 242.43 L336.82 243.05 L338.33 243.65 L339.84 244.23 L341.35 244.80 L342.87 245.34 L344.38 245.87 L345.89 246.36 L347.40 246.83 L348.91 247.27 L350.42 247.68 L351.93 248.06 L353.44 248.40 L354.95 248.71 L356.46 248.97 L357.98 249.20 L359.49 249.39 L361.00 249.54 L362.51 249.65 L364.02 249.71 L365.53 249.74 L367.04 249.72 L368.55 249.66 L370.06 249.56 L371.57 249.41 L373.09 249.23 L374.60 249.01 L376.11 248.74 L377.62 248.44 L379.13 248.11 L380.64 247.74 L382.15 247.33 L383.66 246.90 L385.17 246.43 L386.68 245.94 L388.20 245.42 L389.71 244.88 L391.22 244.31 L392.73 243.73 L394.24 243.13 L395.75 242.52 L397.26 241.89 L398.77 241.26 L400.28 240.62 L401.79 239.98 L403.31 239.34 L404.82 238.71 L406.33 238.07 L407.84 237.45 L409.35 236.83 L410.86 236.23 L412.37 235.65 L413.88 235.08 L415.39 234.53 L416.90 234.01 L418.42 233.51 L419.93 233.04 L421.44 232.60 L422.95 232.20 L424.46 231.82 L425.97 231.48 L427.48 231.17 L428.99 230.91 L430.50 230.68 L432.01 230.49 L433.52 230.34 L435.04 230.23 L436.55 230.17 L438.06 230.14 L439.57 230.16 L441.08 230.22 L442.59 230.32 L444.10 230.47 L445.61 230.65 L447.12 230.87 L448.63 231.13 L450.15 231.43 L451.66 231.77 L453.17 232.14 L454.68 232.55 L456.19 232.98 L457.70 233.45 L459.21 233.94 L460.72 234.46 L462.23 235.00 L463.75 235.57 L465.26 236.15" stroke="#2e2ed6" stroke-width="1.35" fill="none"/>
<text x="55.9" y="54.6" font-size="20" font-weight="bold">A</text>
<text x="57.0" y="112.1" font-size="20" font-weight="bold">B</text>
<text x="56.6" y="158.3" font-size="20" font-weight="bold">C</text>
<text x="57.8" y="224.9" font-size="20" font-weight="bold">D</text>
<text x="321.0" y="54.9" font-size="20" font-weight="bold">E</text>
<text x="322.5" y="113.0" font-size="20" font-weight="bold">F</text>
<text x="319.8" y="157.7" font-size="20" font-weight="bold">G</text>
<text x="321.6" y="226.6" font-size="20" font-weight="bold">H</text>
<text transform="translate(12.6,67.5) rotate(-90)" text-anchor="middle" font-size="14">Naive</text>
<text transform="translate(13.4,187.3) rotate(-90)" text-anchor="middle" font-size="14">Effector memory</text>
<text transform="translate(252.1,131.0) rotate(-90)" text-anchor="middle" font-size="14">Central memory</text>
<text transform="translate(252.0,242.0) rotate(-90)" text-anchor="middle" font-size="14">Effector</text>
<text transform="translate(277.2,67.5) rotate(-90)" text-anchor="middle" font-size="14">Naive</text>
<text transform="translate(276.4,175.0) rotate(-90)" text-anchor="middle" font-size="14">Effector memory</text>
<text transform="translate(515.2,131.0) rotate(-90)" text-anchor="middle" font-size="14">Central memory</text>
<text transform="translate(515.1,242.0) rotate(-90)" text-anchor="middle" font-size="14">Effector</text>
<text x="66" y="14.7" font-size="14">CD4<tspan font-size="12.5" font-weight="bold" dy="-6" dx="0.5">+</tspan><tspan dy="6" dx="1.4" letter-spacing="0.1"> T-helper cells [/μL]</tspan></text>
<text x="327" y="14.7" font-size="14">CD8<tspan font-size="12.5" font-weight="bold" dy="-6" dx="0.2">+</tspan><tspan dy="6" dx="-0.4" letter-spacing="0.17"> cytotoxic T-cells [/μL]</tspan></text>
</svg>
</body></html>
